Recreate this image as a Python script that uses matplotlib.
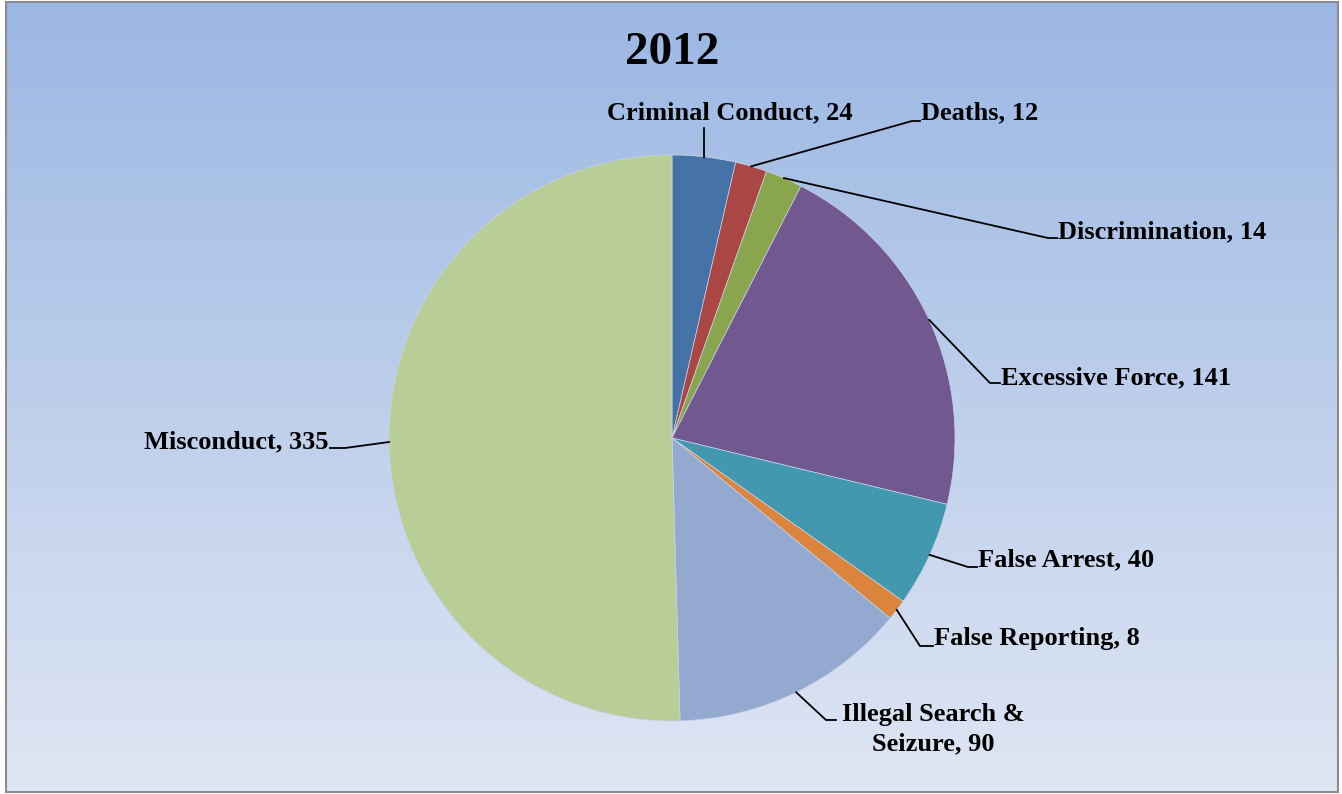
import numpy as np
import matplotlib
matplotlib.use("Agg")
import matplotlib.pyplot as plt
from matplotlib.lines import Line2D
from matplotlib.colors import LinearSegmentedColormap

categories = ["Criminal Conduct", "Deaths", "Discrimination", "Excessive Force",
              "False Arrest", "False Reporting", "Illegal Search &\nSeizure", "Misconduct"]
values = [24, 12, 14, 141, 40, 8, 90, 335]
colors = ["#4572a7", "#aa4643", "#89a54e", "#71588f", "#4198af", "#db843d", "#93a9cf", "#b9cd96"]
title = "2012"

W, H = 1342, 794
fig = plt.figure(figsize=(W / 100, H / 100), dpi=100)
fig.patch.set_facecolor("white")

# background gradient with frame
bg = fig.add_axes([6 / W, 2 / H, (1338 - 6) / W, (792 - 2) / H])
cmap = LinearSegmentedColormap.from_list("bg", ["#9bb7e3", "#dfe6f4"])
bg.imshow(np.linspace(0, 1, 256).reshape(-1, 1), aspect="auto", cmap=cmap,
          extent=[0, 1, 0, 1], origin="upper")
bg.set_xlim(0, 1); bg.set_ylim(0, 1)
bg.set_xticks([]); bg.set_yticks([])
for s in bg.spines.values():
    s.set_color("#8c8c8c"); s.set_linewidth(1.5)

# pie axes
cx, cy, r = 672, 438, 283
ax = fig.add_axes([(cx - r) / W, (H - cy - r) / H, 2 * r / W, 2 * r / H])
ax.set_facecolor("none")
wedges, _ = ax.pie(values, colors=colors, startangle=90, counterclock=False, radius=1,
                   wedgeprops=dict(linewidth=0.5, edgecolor="#c8d3ea"))
ax.set_xlim(-1, 1); ax.set_ylim(-1, 1)
ax.set_aspect("equal")
ax.axis("off")

fig.text(672 / W, 1 - 53 / H, title, ha="center", va="center",
         fontfamily="Liberation Serif", fontweight="bold", fontsize=34)

# label layout: (text x px, text y px, ha, elbow x px, elbow y px, end x px)
layout = [
    (730, 113, "center", None, None, None),
    (921, 113, "left", 912, 121, 920),
    (1058, 232, "left", 1048, 238, 1057),
    (1001, 378, "left", 990, 383, 1000),
    (978, 560, "left", 968, 567, 977),
    (934, 638, "left", 920, 646, 933),
    (933, 729, "center", 826, 720, 836),
    (328, 442, "right", 345, 448, 330),
]

def to_fig(px, py):
    return px / W, 1 - py / H

total = sum(values)
ang = 90.0
for (lab, v, lay) in zip(categories, values, layout):
    span = v / total * 360
    mid = ang - span / 2
    ang -= span
    ex, ey = np.cos(np.radians(mid)), np.sin(np.radians(mid))
    disp = ax.transData.transform((ex, ey))
    fx, fy = fig.transFigure.inverted().transform(disp)
    tx, ty, ha, elx, ely, endx = lay
    if elx is None:
        x2, y2 = to_fig(fx * W, 128)
        fig.add_artist(Line2D([fx, fx], [fy, y2], color="black", lw=1.3))
    else:
        a = to_fig(elx, ely); b = to_fig(endx, ely)
        fig.add_artist(Line2D([fx, a[0], b[0]], [fy, a[1], b[1]], color="black", lw=1.3))
    fig.text(tx / W, 1 - ty / H, f"{lab}, {v}", ha=ha, va="center",
             fontfamily="Liberation Serif", fontweight="bold", fontsize=19,
             linespacing=1.38, multialignment="center")

fig.savefig("out.png", dpi=100)
